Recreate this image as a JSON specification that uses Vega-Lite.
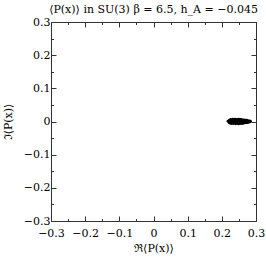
{
  "$schema": "https://vega.github.io/schema/vega-lite/v6.json",
  "width": 205,
  "height": 199,
  "autosize": "none",
  "padding": {"left": 51, "top": 22, "right": 10, "bottom": 36},
  "background": "white",
  "title": {"text": "⟨P(x)⟩ in SU(3) β = 6.5, h_A = −0.045", "font": "DejaVu Serif", "fontSize": 11, "fontWeight": "normal", "color": "black", "anchor": "middle", "offset": 1},
  "config": {
    "view": {"stroke": null},
    "axis": {"grid": false, "domainColor": "#333", "tickColor": "#333", "labelFont": "DejaVu Serif", "labelFontSize": 11, "labelColor": "black", "titleFont": "DejaVu Serif", "titleFontSize": 11, "titleFontWeight": "normal", "titleColor": "black", "labelOverlap": false, "labelFlush": false}
  },
  "data": {"values": [
    {"re": 0.218, "im": 0.001}, {"re": 0.221, "im": -0.003}, {"re": 0.222, "im": 0.004}, {"re": 0.224, "im": -0.005},
    {"re": 0.225, "im": 0.002}, {"re": 0.226, "im": 0.006}, {"re": 0.227, "im": -0.002}, {"re": 0.228, "im": -0.006},
    {"re": 0.229, "im": 0.005}, {"re": 0.230, "im": 0.000}, {"re": 0.231, "im": -0.005}, {"re": 0.232, "im": 0.007},
    {"re": 0.233, "im": 0.003}, {"re": 0.234, "im": -0.006}, {"re": 0.235, "im": -0.001}, {"re": 0.236, "im": 0.006},
    {"re": 0.237, "im": -0.004}, {"re": 0.238, "im": 0.007}, {"re": 0.239, "im": 0.001}, {"re": 0.240, "im": -0.007},
    {"re": 0.241, "im": 0.004}, {"re": 0.242, "im": -0.003}, {"re": 0.243, "im": 0.006}, {"re": 0.244, "im": -0.006},
    {"re": 0.245, "im": 0.002}, {"re": 0.246, "im": -0.001}, {"re": 0.247, "im": 0.006}, {"re": 0.248, "im": -0.007},
    {"re": 0.249, "im": 0.005}, {"re": 0.250, "im": 0.000}, {"re": 0.251, "im": -0.005}, {"re": 0.252, "im": 0.006},
    {"re": 0.253, "im": -0.002}, {"re": 0.254, "im": 0.003}, {"re": 0.255, "im": -0.006}, {"re": 0.256, "im": 0.006},
    {"re": 0.257, "im": -0.004}, {"re": 0.258, "im": 0.001}, {"re": 0.259, "im": 0.005}, {"re": 0.260, "im": -0.006},
    {"re": 0.261, "im": 0.003}, {"re": 0.262, "im": -0.002}, {"re": 0.263, "im": 0.005}, {"re": 0.264, "im": -0.005},
    {"re": 0.265, "im": 0.000}, {"re": 0.266, "im": 0.004}, {"re": 0.267, "im": -0.004}, {"re": 0.268, "im": 0.004},
    {"re": 0.269, "im": -0.001}, {"re": 0.270, "im": 0.002}, {"re": 0.271, "im": -0.004}, {"re": 0.272, "im": 0.004},
    {"re": 0.273, "im": -0.003}, {"re": 0.275, "im": 0.003}, {"re": 0.276, "im": -0.003}, {"re": 0.278, "im": 0.001},
    {"re": 0.280, "im": -0.002}, {"re": 0.282, "im": 0.002}, {"re": 0.284, "im": 0.000}, {"re": 0.235, "im": 0.004},
    {"re": 0.245, "im": -0.004}, {"re": 0.255, "im": 0.004}, {"re": 0.265, "im": -0.003}, {"re": 0.240, "im": 0.000},
    {"re": 0.260, "im": 0.000}, {"re": 0.250, "im": 0.007}, {"re": 0.250, "im": -0.007}, {"re": 0.230, "im": 0.003},
    {"re": 0.270, "im": -0.002}, {"re": 0.244, "im": 0.003}, {"re": 0.256, "im": -0.003}, {"re": 0.238, "im": -0.002}
  ]},
  "layer": [
    {
      "mark": {"type": "point", "filled": true, "size": 8, "color": "black", "opacity": 1},
      "encoding": {
        "x": {"field": "re", "type": "quantitative", "scale": {"domain": [-0.3, 0.3], "nice": false, "zero": false},
          "axis": {"orient": "bottom", "title": "ℜ⟨P(x)⟩", "titlePadding": 2,
            "values": [-0.3, -0.25, -0.2, -0.15, -0.1, -0.05, 0, 0.05, 0.1, 0.15, 0.2, 0.25, 0.3],
            "labelExpr": "abs(datum.value*10 - round(datum.value*10)) > 0.01 ? '' : format(datum.value, '~g')",
            "tickSize": {"condition": {"test": "abs(datum.value*10 - round(datum.value*10)) > 0.01", "value": -2.5}, "value": -5},
            "labelPadding": 11}},
        "y": {"field": "im", "type": "quantitative", "scale": {"domain": [-0.3, 0.3], "nice": false, "zero": false},
          "axis": {"orient": "left", "title": "ℑ⟨P(x)⟩", "titlePadding": 10,
            "values": [-0.3, -0.25, -0.2, -0.15, -0.1, -0.05, 0, 0.05, 0.1, 0.15, 0.2, 0.25, 0.3],
            "labelExpr": "abs(datum.value*10 - round(datum.value*10)) > 0.01 ? '' : format(datum.value, '~g')",
            "tickSize": {"condition": {"test": "abs(datum.value*10 - round(datum.value*10)) > 0.01", "value": -2.5}, "value": -5},
            "labelPadding": 6}}
      }
    },
    {
      "mark": {"type": "point", "opacity": 0},
      "encoding": {
        "x": {"field": "re", "type": "quantitative",
          "axis": {"orient": "top", "title": null, "labels": false,
            "values": [-0.3, -0.25, -0.2, -0.15, -0.1, -0.05, 0, 0.05, 0.1, 0.15, 0.2, 0.25, 0.3],
            "tickSize": {"condition": {"test": "abs(datum.value*10 - round(datum.value*10)) > 0.01", "value": -2.5}, "value": -5}}},
        "y": {"field": "im", "type": "quantitative",
          "axis": {"orient": "right", "title": null, "labels": false,
            "values": [-0.3, -0.25, -0.2, -0.15, -0.1, -0.05, 0, 0.05, 0.1, 0.15, 0.2, 0.25, 0.3],
            "tickSize": {"condition": {"test": "abs(datum.value*10 - round(datum.value*10)) > 0.01", "value": -2.5}, "value": -5}}}
      }
    }
  ],
  "resolve": {"axis": {"x": "independent", "y": "independent"}}
}
